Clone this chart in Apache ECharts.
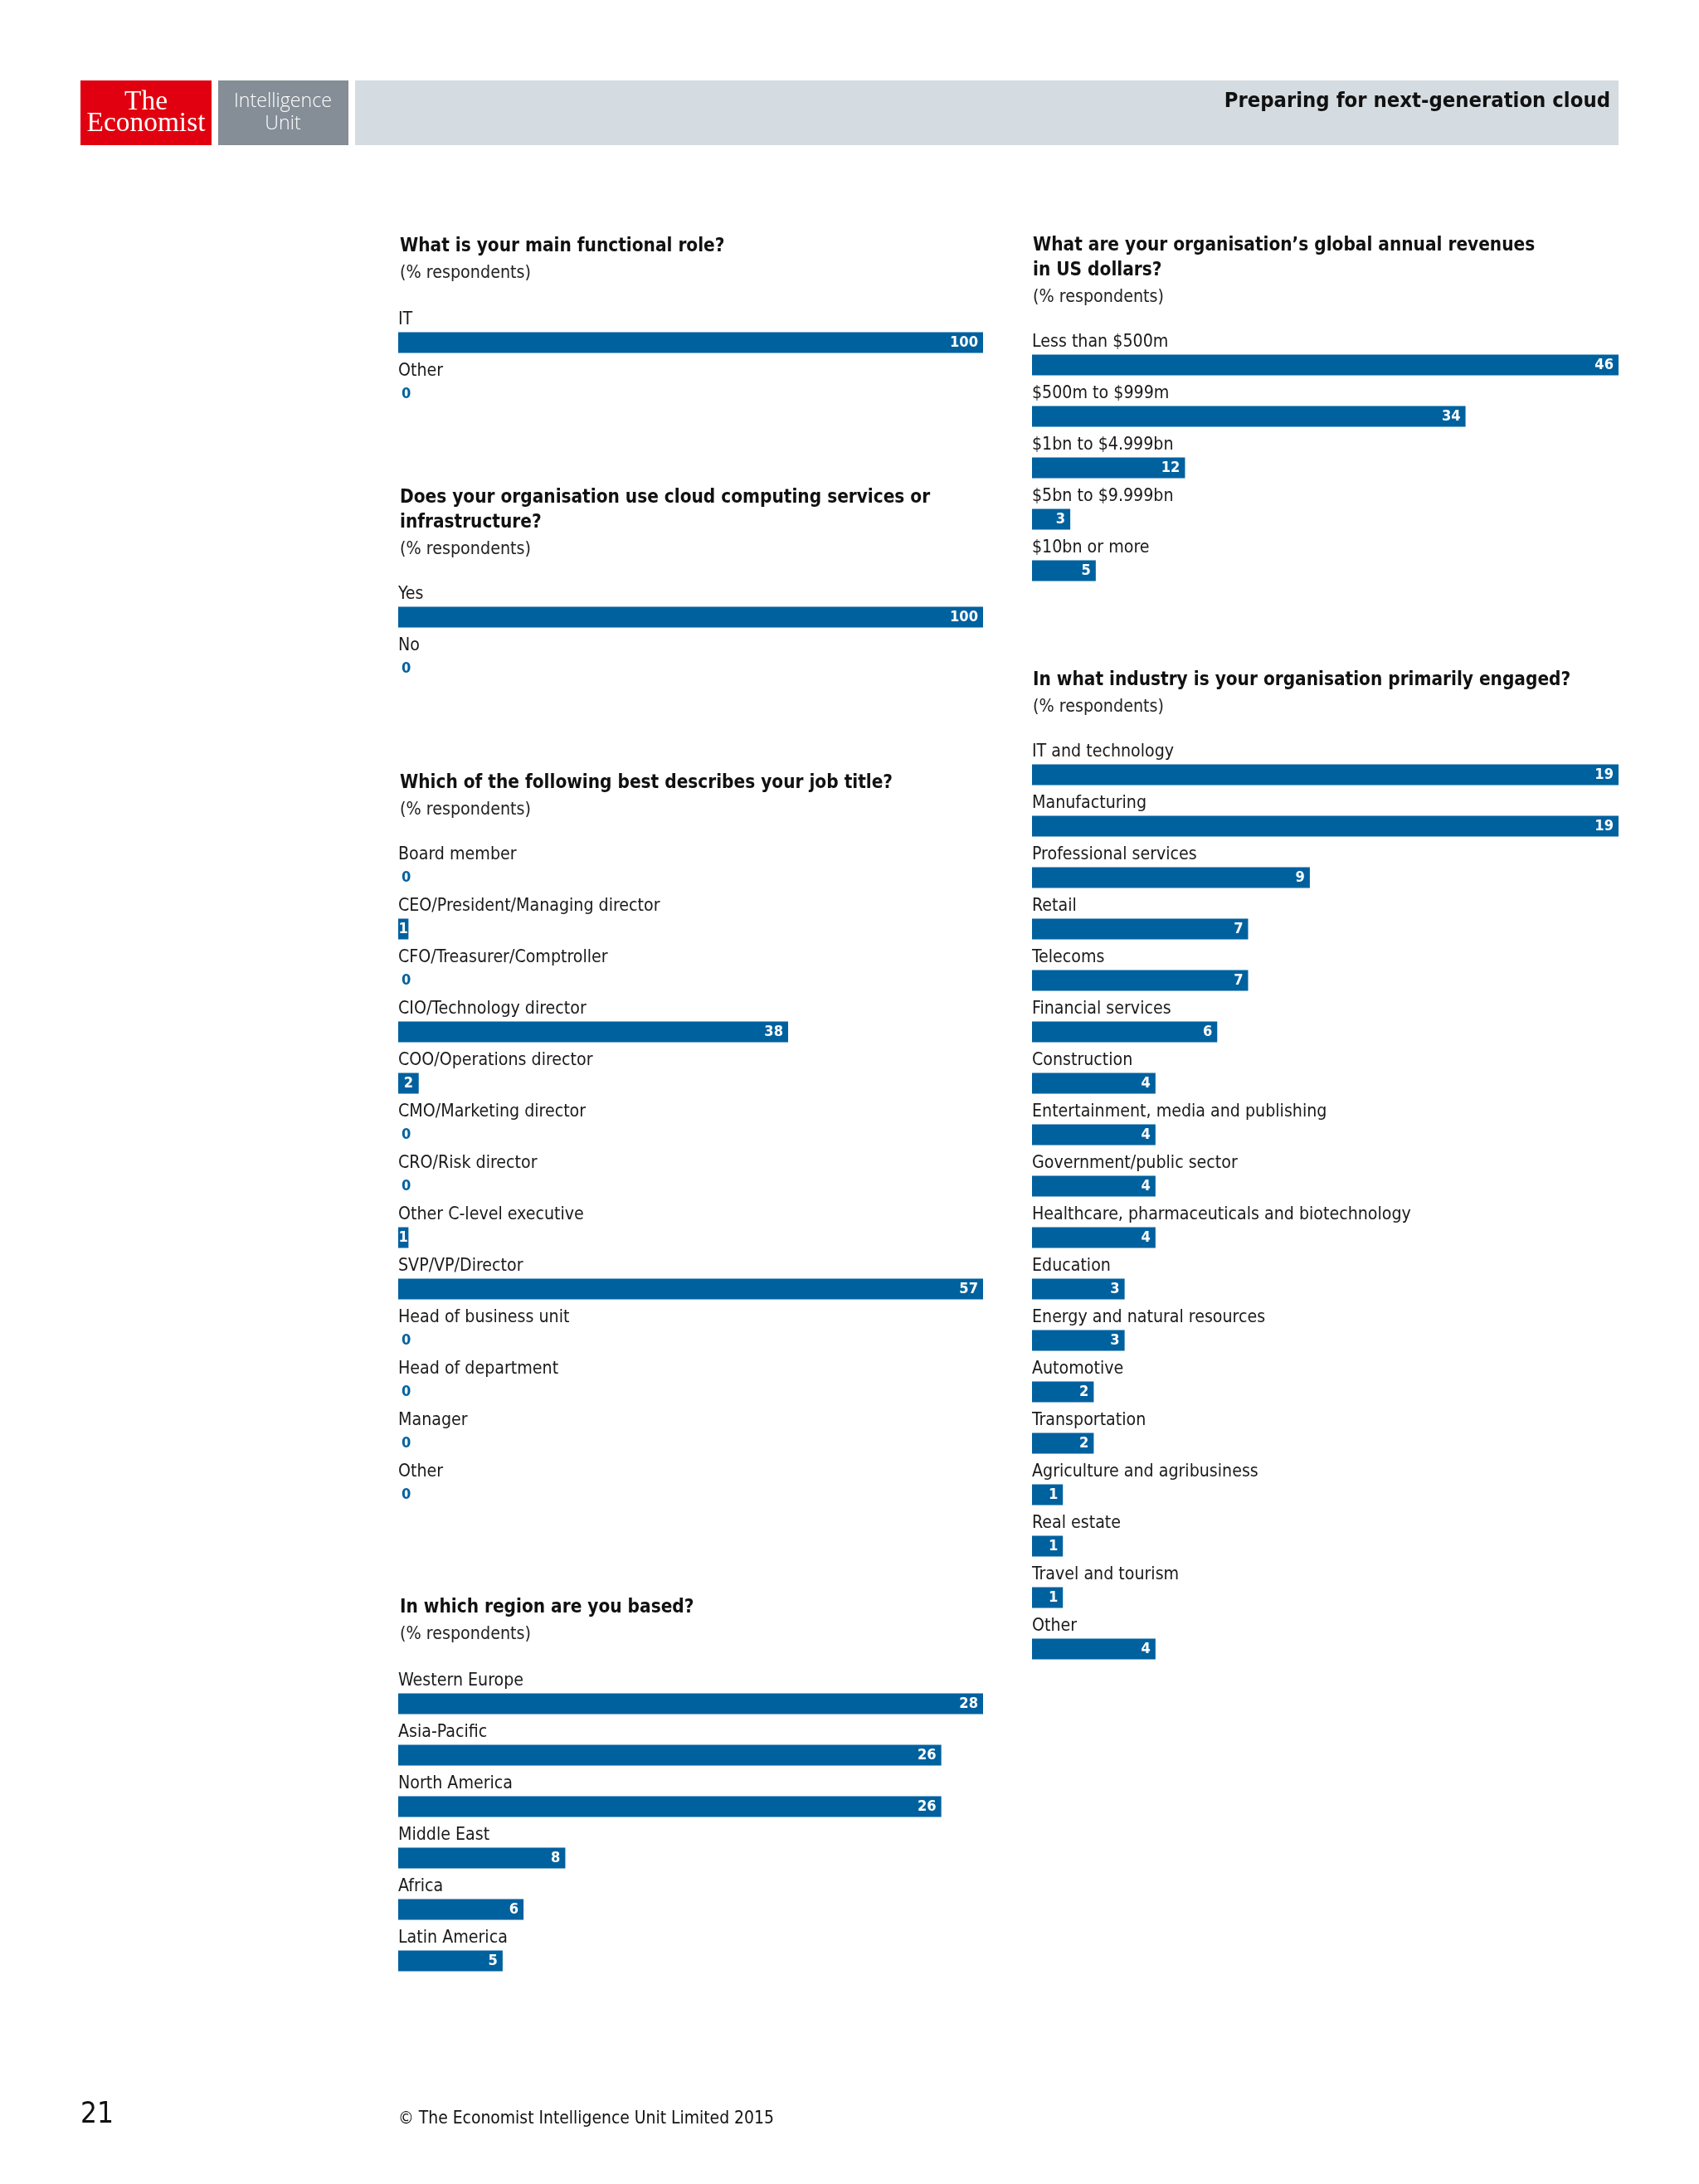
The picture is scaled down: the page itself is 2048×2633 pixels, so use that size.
<!DOCTYPE html>
<html>
<head>
<meta charset="utf-8">
<script src="https://cdn.jsdelivr.net/npm/echarts@6/dist/echarts.min.js"></script>
<style>
html,body{margin:0;padding:0;background:#fff;}
#main{position:absolute;left:0;top:0;width:2048px;height:2633px;}
</style>
</head>
<body>
<div id="main"></div>
<script>
// ---------- DATA ----------
var roleCats = ['IT', 'Other'];
var roleVals = [100, 0];

var cloudCats = ['Yes', 'No'];
var cloudVals = [100, 0];

var jobCats = ['Board member', 'CEO/President/Managing director', 'CFO/Treasurer/Comptroller',
  'CIO/Technology director', 'COO/Operations director', 'CMO/Marketing director', 'CRO/Risk director',
  'Other C-level executive', 'SVP/VP/Director', 'Head of business unit', 'Head of department',
  'Manager', 'Other'];
var jobVals = [0, 1, 0, 38, 2, 0, 0, 1, 57, 0, 0, 0, 0];

var regionCats = ['Western Europe', 'Asia-Pacific', 'North America', 'Middle East', 'Africa', 'Latin America'];
var regionVals = [28, 26, 26, 8, 6, 5];

var revenueCats = ['Less than $500m', '$500m to $999m', '$1bn to $4.999bn', '$5bn to $9.999bn', '$10bn or more'];
var revenueVals = [46, 34, 12, 3, 5];

var industryCats = ['IT and technology', 'Manufacturing', 'Professional services', 'Retail', 'Telecoms',
  'Financial services', 'Construction', 'Entertainment, media and publishing', 'Government/public sector',
  'Healthcare, pharmaceuticals and biotechnology', 'Education', 'Energy and natural resources',
  'Automotive', 'Transportation', 'Agriculture and agribusiness', 'Real estate', 'Travel and tourism', 'Other'];
var industryVals = [19, 19, 9, 7, 7, 6, 4, 4, 4, 4, 3, 3, 2, 2, 1, 1, 1, 4];

// ---------- STYLE ----------
var BLUE = '#00619f';
var FAM = '"DejaVu Sans Condensed", "DejaVu Sans", sans-serif';
var SERIF = '"Liberation Serif", "DejaVu Serif", serif';
var LIGHT = '"Open Sans", "DejaVu Sans Condensed", sans-serif';

var cv = document.createElement('canvas').getContext('2d');
function fit(str, weight, fam, target, base) {
  base = base || 20;
  cv.font = weight + ' ' + base + 'px ' + fam;
  var w = cv.measureText(str).width;
  return Math.round(base * target / w * 10) / 10;
}
var fsLabel = fit('CEO/President/Managing director', 'normal', FAM, 316);
var fsTitle = fit('What is your main functional role?', 'bold', FAM, 391);
var fsSub = fit('(% respondents)', 'normal', FAM, 158);
var fsVal = fit('100', 'bold', FAM, 34);
var fsHead = fit('Preparing for next-generation cloud', 'bold', FAM, 465);
var fsFoot = fit('\u00A9 The Economist Intelligence Unit Limited 2015', 'normal', FAM, 453);
var fsPage = fit('21', 'normal', FAM, 40);
var fsEcon = fit('Economist', 'normal', SERIF, 143);
var fsIU = fit('Intelligence', '300', LIGHT, 118);

// ---------- CHART PANELS ----------
var panels = [
  {cats: roleCats, vals: roleVals, left: 480, top: 382, width: 705},
  {cats: cloudCats, vals: cloudVals, left: 480, top: 713, width: 705},
  {cats: jobCats, vals: jobVals, left: 480, top: 1027, width: 705},
  {cats: regionCats, vals: regionVals, left: 480, top: 2023, width: 705},
  {cats: revenueCats, vals: revenueVals, left: 1244, top: 409, width: 707},
  {cats: industryCats, vals: industryVals, left: 1244, top: 903, width: 707}
];
var ROW = 62;

var grids = [], xAxes = [], yAxes = [], series = [];
panels.forEach(function (p, i) {
  var max = Math.max.apply(null, p.vals);
  grids.push({left: p.left, top: p.top, width: p.width, height: p.cats.length * ROW});
  xAxes.push({gridIndex: i, type: 'value', min: 0, max: max, show: false});
  yAxes.push({
    gridIndex: i, type: 'category', data: p.cats, inverse: true, z: 5,
    axisLine: {show: false}, axisTick: {show: false}, splitLine: {show: false},
    axisLabel: {
      inside: true, margin: 0, interval: 0,
      formatter: function (v) { return '{a|' + v + '}\n{b| }'; },
      rich: {
        a: {color: '#1a1a1a', fontSize: fsLabel, fontFamily: FAM, lineHeight: 26, align: 'left'},
        b: {fontSize: 10, lineHeight: 56, height: 56}
      }
    }
  });
  series.push({
    type: 'bar', xAxisIndex: i, yAxisIndex: i, barWidth: 25,
    itemStyle: {color: BLUE},
    label: {
      show: true, position: 'insideRight', distance: 6, color: '#fff',
      fontWeight: 'bold', fontSize: fsVal, fontFamily: FAM, formatter: '{c}'
    },
    data: p.vals.map(function (v) {
      var item = {value: v};
      if (v === 0) {
        item.label = {position: 'right', distance: 4, color: BLUE};
      } else if (v / max * p.width < 30) {
        item.label = {position: 'inside'};
      }
      return item;
    })
  });
});

// ---------- TITLES ----------
var titles = [
  {x: 482, y: 297, lines: ['What is your main functional role?'], sub: 329},
  {x: 482, y: 600, lines: ['Does your organisation use cloud computing services or', 'infrastructure?'], sub: 662},
  {x: 482, y: 944, lines: ['Which of the following best describes your job title?'], sub: 976},
  {x: 482, y: 1938, lines: ['In which region are you based?'], sub: 1970},
  {x: 1245, y: 296, lines: ['What are your organisation\u2019s global annual revenues', 'in US dollars?'], sub: 358},
  {x: 1245, y: 820, lines: ['In what industry is your organisation primarily engaged?'], sub: 852}
];
var graphics = [
  {type: 'rect', shape: {x: 97, y: 97, width: 158, height: 78}, style: {fill: '#e1000f'}},
  {type: 'rect', shape: {x: 263, y: 97, width: 157, height: 78}, style: {fill: '#858e97'}},
  {type: 'rect', shape: {x: 428, y: 97, width: 1523, height: 78}, style: {fill: '#d5dce1'}},
  {type: 'text', x: 176, y: 123, style: {text: 'The', fill: '#fff', font: 'normal ' + fsEcon + 'px ' + SERIF, textAlign: 'center', textVerticalAlign: 'middle'}},
  {type: 'text', x: 176, y: 149, style: {text: 'Economist', fill: '#fff', font: 'normal ' + fsEcon + 'px ' + SERIF, textAlign: 'center', textVerticalAlign: 'middle'}},
  {type: 'text', x: 341, y: 122, style: {text: 'Intelligence', fill: '#fff', font: '300 ' + fsIU + 'px ' + LIGHT, textAlign: 'center', textVerticalAlign: 'middle'}},
  {type: 'text', x: 341, y: 149, style: {text: 'Unit', fill: '#fff', font: '300 ' + fsIU + 'px ' + LIGHT, textAlign: 'center', textVerticalAlign: 'middle'}},
  {type: 'text', x: 1941, y: 122, style: {text: 'Preparing for next-generation cloud', fill: '#111', font: 'bold ' + fsHead + 'px ' + FAM, textAlign: 'right', textVerticalAlign: 'middle'}},
  {type: 'text', x: 97, y: 2550, style: {text: '21', fill: '#111', font: 'normal ' + fsPage + 'px ' + FAM, textAlign: 'left', textVerticalAlign: 'middle'}},
  {type: 'text', x: 480, y: 2555, style: {text: '\u00A9 The Economist Intelligence Unit Limited 2015', fill: '#111', font: 'normal ' + fsFoot + 'px ' + FAM, textAlign: 'left', textVerticalAlign: 'middle'}}
];
titles.forEach(function (t) {
  t.lines.forEach(function (ln, k) {
    graphics.push({type: 'text', x: t.x, y: t.y + k * 30,
      style: {text: ln, fill: '#111', font: 'bold ' + fsTitle + 'px ' + FAM, textAlign: 'left', textVerticalAlign: 'middle'}});
  });
  graphics.push({type: 'text', x: t.x, y: t.sub,
    style: {text: '(% respondents)', fill: '#222', font: 'normal ' + fsSub + 'px ' + FAM, textAlign: 'left', textVerticalAlign: 'middle'}});
});

var chart = echarts.init(document.getElementById('main'), null, {renderer: 'canvas'});
chart.setOption({
  backgroundColor: '#ffffff',
  animation: false,
  grid: grids,
  xAxis: xAxes,
  yAxis: yAxes,
  series: series,
  graphic: graphics
});
</script>
</body>
</html>
